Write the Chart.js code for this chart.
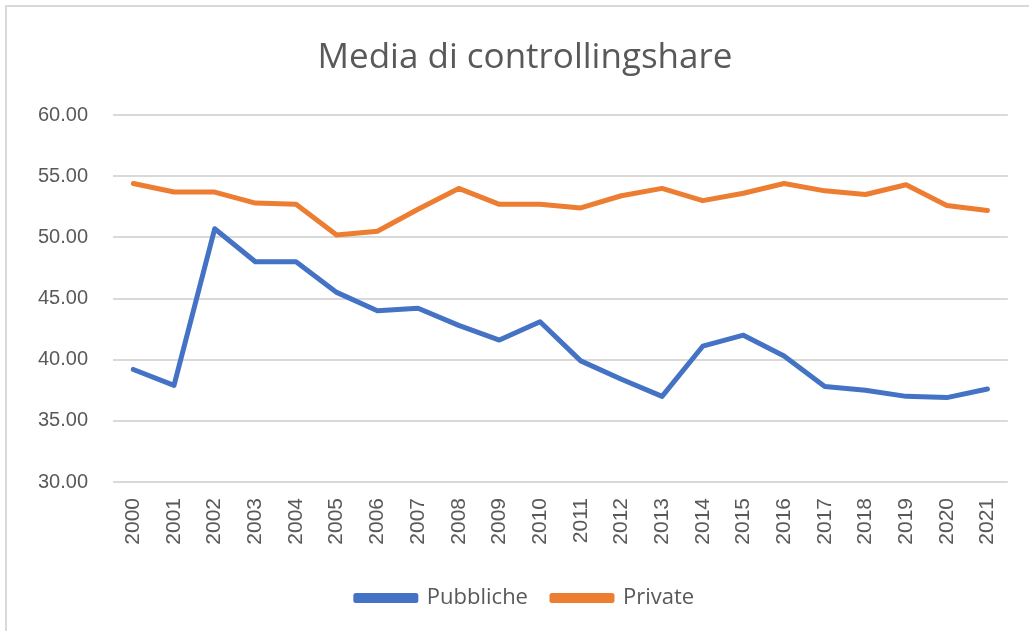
<!DOCTYPE html>
<html>
<head>
<meta charset="utf-8">
<script src="https://cdn.jsdelivr.net/npm/chart.js"></script>
<style>
  html, body { margin: 0; padding: 0; background: #fff; }
  #wrap {
    position: absolute; left: 5px; top: 5px;
    width: 1024px; height: 626px;
    border: 2px solid #d9d9d9; border-right: none; border-bottom: none;
    box-sizing: border-box;
  }
  #c { position: absolute; left: 0; top: 0; }
</style>
</head>
<body>
<div id="wrap"><canvas id="c" width="1022" height="624"></canvas></div>
<script>
// Years on the category axis
const years = ['2000','2001','2002','2003','2004','2005','2006','2007','2008','2009','2010',
               '2011','2012','2013','2014','2015','2016','2017','2018','2019','2020','2021'];

// Average controlling share, public companies
const pubbliche = [39.2, 37.9, 50.7, 48.0, 48.0, 45.5, 44.0, 44.2, 42.8, 41.6, 43.1,
                   39.9, 38.4, 37.0, 41.1, 42.0, 40.3, 37.8, 37.5, 37.0, 36.9, 37.6];

// Average controlling share, private companies
const private_ = [54.4, 53.7, 53.7, 52.8, 52.7, 50.2, 50.5, 52.3, 54.0, 52.7, 52.7,
                  52.4, 53.4, 54.0, 53.0, 53.6, 54.4, 53.8, 53.5, 54.3, 52.6, 52.2];

// Y axis range
const yMin = 30, yMax = 60, yStep = 5;

const font = '"Open Sans", "Liberation Sans", sans-serif';
const tickFont = '"Liberation Sans", Arial, sans-serif';
const grey = '#595959';

new Chart(document.getElementById('c'), {
  type: 'line',
  data: {
    labels: years,
    datasets: [
      {
        label: 'Pubbliche',
        data: pubbliche,
        borderColor: '#4472c4',
        backgroundColor: '#4472c4',
        borderWidth: 5,
        borderJoinStyle: 'round',
        borderCapStyle: 'round',
        pointRadius: 0,
        tension: 0
      },
      {
        label: 'Private',
        data: private_,
        borderColor: '#ed7d31',
        backgroundColor: '#ed7d31',
        borderWidth: 5,
        borderJoinStyle: 'round',
        borderCapStyle: 'round',
        pointRadius: 0,
        tension: 0
      }
    ]
  },
  options: {
    responsive: false,
    animation: false,
    layout: { padding: { left: 30, right: 16, top: 30, bottom: 12 } },
    plugins: {
      title: {
        display: true,
        text: 'Media di controllingshare',
        color: grey,
        font: { family: font, size: 35, weight: 'normal' },
        padding: { top: 0, bottom: 36 }
      },
      legend: {
        position: 'bottom',
        labels: {
          color: grey,
          font: { family: font, size: 22 },
          boxWidth: 60,
          boxHeight: 5,
          padding: 24
        }
      },
      tooltip: { enabled: false }
    },
    scales: {
      x: {
        offset: true,
        grid: { display: false, drawTicks: false },
        border: { display: false },
        afterFit: s => { s.height = 81; },
        ticks: {
          color: grey,
          font: { family: tickFont, size: 21 },
          minRotation: 90,
          maxRotation: 90,
          autoSkip: false,
          padding: 16
        }
      },
      y: {
        min: yMin,
        max: yMax,
        grid: { color: '#d9d9d9', lineWidth: 2, drawTicks: false },
        border: { display: false },
        afterFit: s => { s.width = 76; },
        ticks: {
          stepSize: yStep,
          color: grey,
          font: { family: tickFont, size: 20 },
          padding: 25,
          callback: v => v.toFixed(2)
        }
      }
    }
  }
});
</script>
</body>
</html>
